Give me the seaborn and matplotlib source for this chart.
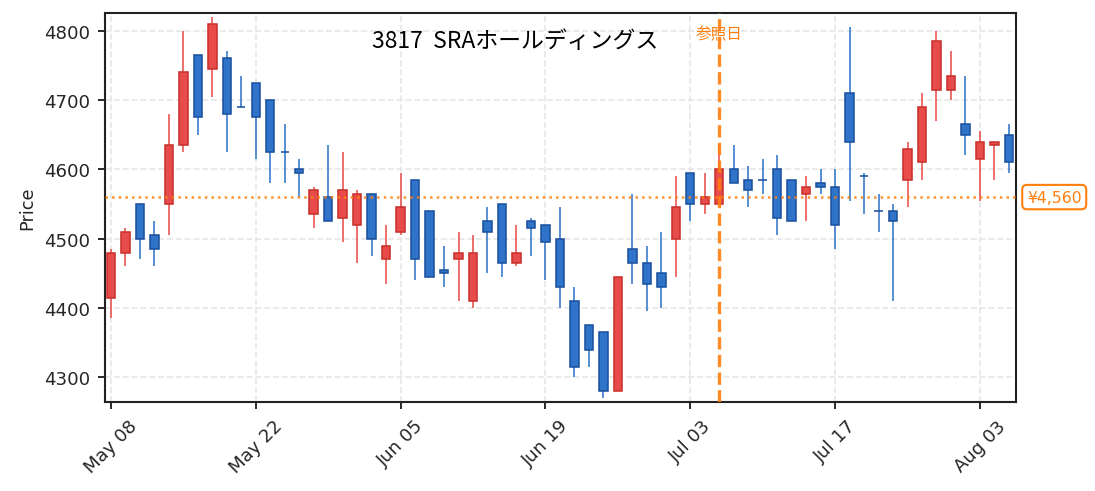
import numpy as np
import pandas as pd
import matplotlib
matplotlib.use("Agg")
import matplotlib.pyplot as plt
import seaborn as sns

# daily OHLC (trading-day index 0..62)
opens = [4415, 4480, 4550, 4505, 4550, 4635, 4765, 4745, 4760, 4690,
         4725, 4700, 4625, 4600, 4535, 4560, 4530, 4520, 4565, 4470,
         4510, 4585, 4540, 4455, 4470, 4410, 4525, 4550, 4465, 4525,
         4520, 4500, 4410, 4375, 4365, 4280, 4485, 4465, 4450, 4500,
         4595, 4550, 4550, 4600, 4585, 4585, 4600, 4585, 4565, 4580,
         4575, 4710, 4590, 4540, 4540, 4585, 4610, 4715, 4715, 4665,
         4615, 4635, 4650]
highs = [4485, 4515, 4550, 4525, 4680, 4800, 4765, 4820, 4770, 4735,
         4725, 4700, 4665, 4615, 4575, 4635, 4625, 4570, 4565, 4520,
         4595, 4585, 4540, 4490, 4510, 4505, 4545, 4550, 4520, 4530,
         4520, 4545, 4430, 4375, 4365, 4445, 4565, 4490, 4510, 4590,
         4595, 4595, 4635, 4635, 4605, 4615, 4620, 4585, 4590, 4600,
         4600, 4805, 4595, 4565, 4550, 4640, 4710, 4800, 4770, 4735,
         4655, 4640, 4665]
lows = [4385, 4460, 4470, 4460, 4505, 4625, 4650, 4705, 4625, 4690,
        4615, 4580, 4580, 4560, 4515, 4525, 4495, 4465, 4475, 4435,
        4505, 4440, 4445, 4430, 4410, 4400, 4450, 4445, 4460, 4475,
        4440, 4400, 4300, 4315, 4270, 4280, 4435, 4395, 4400, 4445,
        4525, 4535, 4550, 4580, 4545, 4565, 4505, 4525, 4525, 4565,
        4485, 4555, 4535, 4510, 4410, 4545, 4585, 4670, 4700, 4620,
        4555, 4585, 4595]
closes = [4480, 4510, 4500, 4485, 4635, 4740, 4675, 4810, 4680, 4690,
          4675, 4625, 4625, 4595, 4570, 4525, 4570, 4565, 4500, 4490,
          4545, 4470, 4445, 4450, 4480, 4480, 4510, 4465, 4480, 4515,
          4495, 4430, 4315, 4340, 4280, 4445, 4465, 4435, 4430, 4545,
          4550, 4560, 4600, 4580, 4570, 4585, 4530, 4525, 4575, 4575,
          4520, 4640, 4590, 4540, 4525, 4630, 4690, 4785, 4735, 4650,
          4640, 4640, 4610]

tick_labels = ["May 08", "May 22", "Jun 05", "Jun 19", "Jul 03", "Jul 17", "Aug 03"]
tick_step = 10
ref_index = 42
ref_price = 4560
title = "3817  SRAホールディングス"

df = pd.DataFrame({"open": opens, "high": highs, "low": lows, "close": closes})
df["pos"] = np.arange(len(df))
df["up"] = df["close"] > df["open"]

sns.set_theme(style="ticks")
plt.rcParams['font.family'] = ['DejaVu Sans', 'Noto Sans CJK JP']
jp_font = ['Noto Sans CJK JP', 'DejaVu Sans']

up_fill, up_edge = "#e84c4a", "#c9302c"
dn_fill, dn_edge = "#2f74c8", "#1b4f9e"
orange = "#ff7f0e"

fig, ax = plt.subplots(figsize=(7.3, 3.28), dpi=150)
fig.subplots_adjust(left=0.096, right=0.928, top=0.9715, bottom=0.181)

# grid
ax.grid(True, color="#e6e6e6", linestyle="--", linewidth=0.8, zorder=0)
ax.set_axisbelow(True)

# wicks
wick_colors = np.where(df["up"], up_fill, dn_fill)
ax.vlines(df["pos"], df["low"], df["high"], colors=wick_colors, linewidth=0.75, zorder=2)

# bodies
body_bottom = df[["open", "close"]].min(axis=1)
body_height = (df["close"] - df["open"]).abs()
ax.bar(df["pos"], body_height, bottom=body_bottom, width=0.58,
       color=np.where(df["up"], up_fill, dn_fill),
       edgecolor=np.where(df["up"], up_edge, dn_edge),
       linewidth=0.75, zorder=3)

# reference lines
ax.axhline(ref_price, color=orange, linestyle=":", linewidth=1.2, alpha=0.85, zorder=4)
ax.axvline(ref_index, color=orange, linestyle="--", linewidth=1.6, alpha=0.9, zorder=5)
ax.text(ref_index, 0.934, "参照日", transform=ax.get_xaxis_transform(),
        ha="center", va="baseline", fontsize=7.5, color=orange, family=jp_font)
ax.text(1.0118, ref_price, f"¥{ref_price:,}", transform=ax.get_yaxis_transform(),
        ha="left", va="center", fontsize=7.5, color=orange, clip_on=False,
        bbox=dict(boxstyle="round,pad=0.3", fc="white", ec=orange, lw=1.0))

ax.text(0.45, 0.912, title, transform=ax.transAxes, ha="center", va="baseline",
        fontsize=11, color="black", family=jp_font)

# axes
span = df["high"].max() - df["low"].min()
ax.set_ylim(df["low"].min() - 0.01 * span, df["high"].max() + 0.01 * span)
ax.set_xlim(-0.4, len(df) - 0.5)
ax.set_xticks(np.arange(len(tick_labels)) * tick_step)
ax.set_xticklabels(tick_labels, rotation=45)
ax.set_yticks([4300, 4400, 4500, 4600, 4700, 4800])
ax.set_ylabel("Price", fontsize=8.5)
ax.set_xlabel("")
ax.tick_params(labelsize=8.7, length=3.5, width=0.9, color="#222222")
for s in ax.spines.values():
    s.set_color("#222222")
    s.set_linewidth(1.0)

fig.savefig("out.png", dpi=150)
